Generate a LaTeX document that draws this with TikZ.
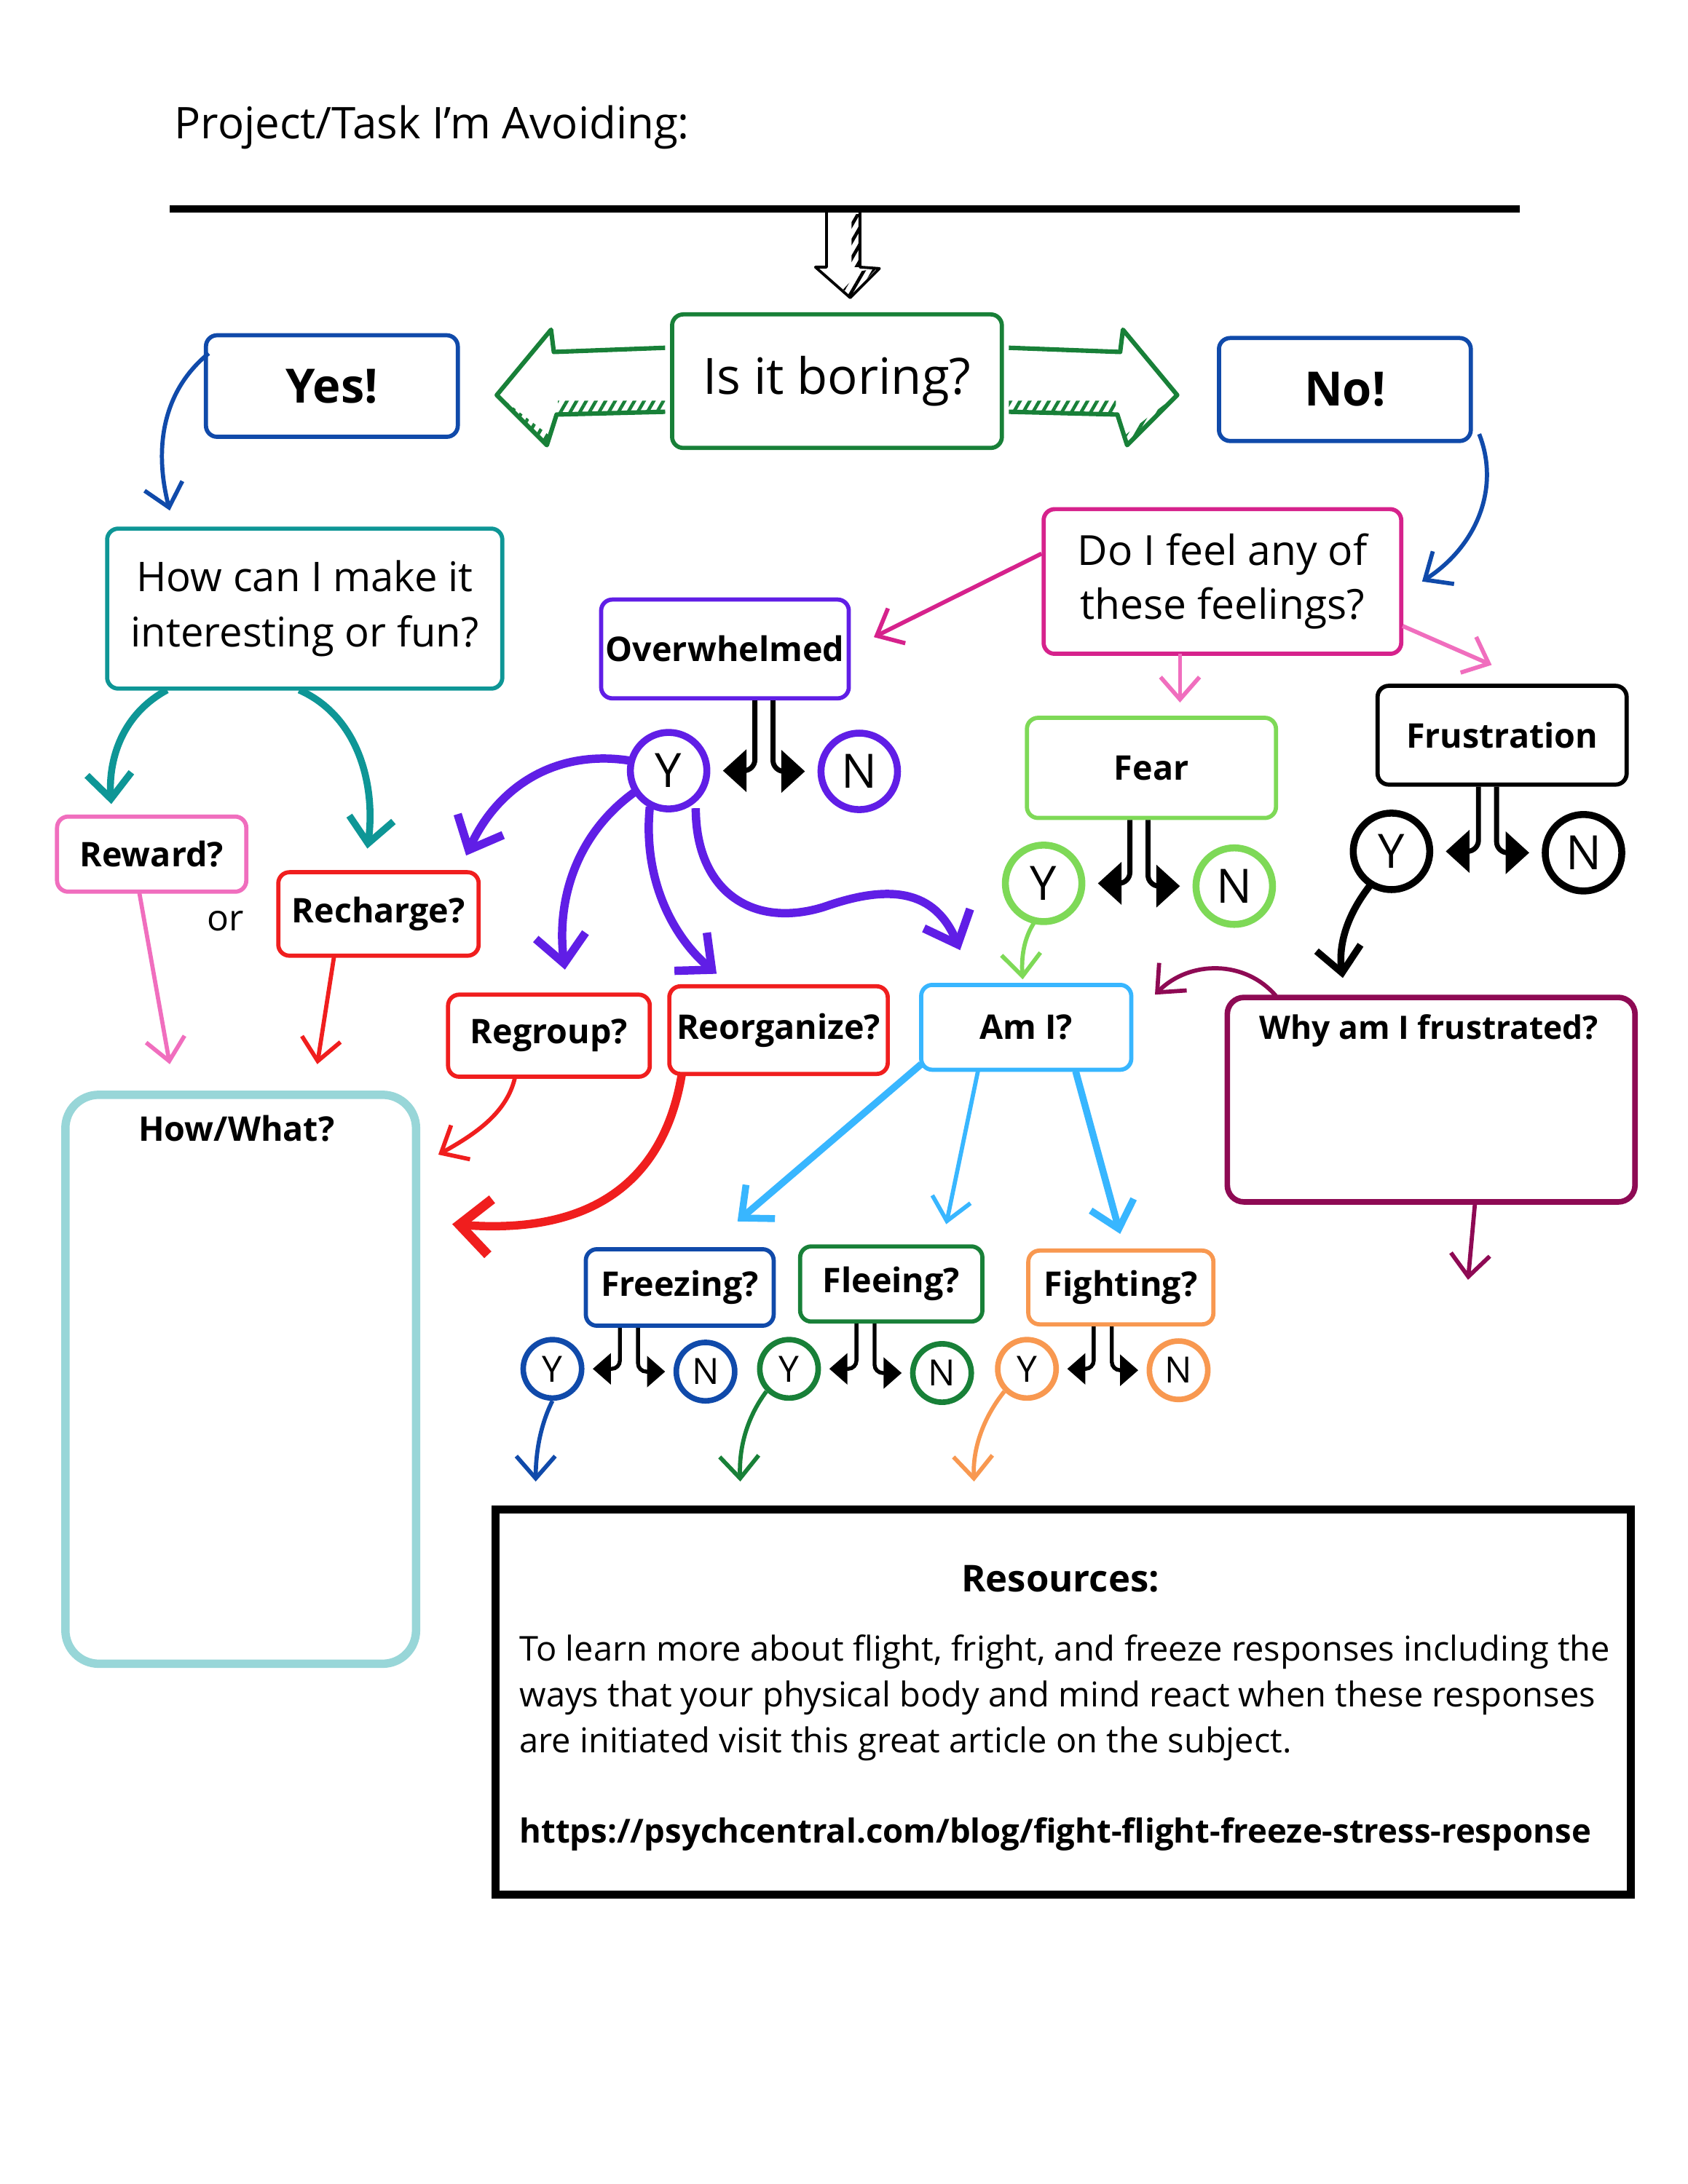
\documentclass[tikz,border=0pt]{standalone}
\usepackage{fontspec}
\setmainfont{Open Sans}
\usetikzlibrary{arrows.meta,calc,patterns.meta}
\definecolor{grn}{RGB}{24,128,56}
\definecolor{blu}{RGB}{16,74,170}
\definecolor{tea}{RGB}{14,150,150}
\definecolor{pnk}{RGB}{240,110,190}
\definecolor{mag}{RGB}{214,34,140}
\definecolor{rd}{RGB}{240,30,30}
\definecolor{ltea}{RGB}{152,214,216}
\definecolor{pur}{RGB}{96,30,230}
\definecolor{lgr}{RGB}{126,217,87}
\definecolor{lblu}{RGB}{56,182,255}
\definecolor{mar}{RGB}{142,10,84}
\definecolor{org}{RGB}{248,152,80}
\tikzset{
  box/.style={draw=#1, line width=1.5pt, rounded corners=4pt, fill=white, inner sep=0pt, align=center, font=\bfseries\fontsize{12.2}{14}\selectfont},
  circ/.style={circle, draw=#1, line width=2.5pt, minimum size=27.5pt, inner sep=0pt, font=\fontsize{17}{17}\selectfont},
  scirc/.style={circle, draw=#1, line width=2pt, minimum size=21pt, inner sep=0pt, font=\fontsize{13}{13}\selectfont},
  arr/.style={draw=#1, line width=1.5pt, -{Straight Barb[length=8pt,width=14pt,line width=1.5pt]}},
  tarr/.style={draw=#1, line width=2.5pt, -{Straight Barb[length=9pt,width=16pt,line width=2.5pt]}},
  splt/.style={line width=1.8pt, rounded corners=4pt, -{Triangle[length=8.5pt,width=15pt]}, shorten >=4.5pt},
  ssplt/.style={line width=1.4pt, rounded corners=3pt, -{Triangle[length=6.5pt,width=11pt]}, shorten >=3pt},
  hatch/.style={pattern={Lines[angle=60,distance=3pt,line width=1.2pt]}, pattern color=#1},
}
\newcommand\splitYN[4]{%
  \coordinate (#2#3m) at ($(#2)!0.5!(#3)$);
  \draw[#4] ([xshift=-3.25pt]#2#3m |- #1.south) |- (#2.east);
  \draw[#4] ([xshift=3.25pt]#2#3m |- #1.south) |- (#3.west);
}
\begin{document}
\begin{tikzpicture}[x=0.5pt,y=-0.5pt]
\useasboundingbox[fill=white] (0,0) rectangle (1213,1570);

% title and line
\node[anchor=base west, inner sep=0pt, font=\fontsize{15.7}{18}\selectfont] (title) at (125,99.5) {Project/Task I'm Avoiding:};
\coordinate (lineL) at (122,150);
\coordinate (lineR) at (1092,150);
\draw[line width=2.6pt] (lineL) -- (lineR);

% top block arrow
\fill[hatch=black] (612,154) -- (618,154) -- (618,192) -- (612,192) -- cycle;
\fill[hatch=black] (618,195) -- (630,193) -- (611,213) -- (606,208) -- cycle;
\draw[line width=1pt, line join=round] (594,152) -- (594,192) -- (586,192) -- (611,214) -- (632,193) -- (618,192) -- (618,152);

% boring box and green arrows
\node[box=grn, minimum width=118.5pt, minimum height=48pt, font=\fontsize{18}{21}\selectfont] (boring) at (601.5,274) {Is it boring?};
\foreach \s/\o in {1/0, -1/1203} {
  \begin{scope}[xshift=\o*0.5pt, xscale=\s]
    \fill[hatch=grn] (401,288) -- (478,288) -- (478,297) -- (401,298) -- cycle;
    \fill[hatch=grn] (357,284) -- (364,289) -- (396,314) -- (393,320) -- cycle;
    \draw[grn, line width=1.6pt, line join=round] (478,250) -- (398,253) -- (396,237) -- (357,284) -- (393,320) -- (400,298) -- (478,296);
  \end{scope}
}

\node[box=blu, minimum width=90.5pt, minimum height=36.5pt, font=\bfseries\fontsize{17}{20}\selectfont] (yes) at (238.5,277.5) {Yes!};
\node[box=blu, minimum width=90.5pt, minimum height=37pt, font=\bfseries\fontsize{17}{20}\selectfont] (no) at (966.5,280) {No!};

\node[box=tea, minimum width=142pt, minimum height=57.5pt, font=\fontsize{14.7}{20}\selectfont] (how) at (219,437.5) {How can I make it\\interesting or fun?};
\node[box=mag, minimum width=128.5pt, minimum height=52pt, font=\fontsize{14.9}{19.5}\selectfont] (feel) at (878.5,418) {Do I feel any of\\these feelings?};

\node[box=pnk, minimum width=68pt, minimum height=27pt] (reward) at (109,614) {Reward?};
\node[box=rd, minimum width=72pt, minimum height=30pt] (recharge) at (272,657) {Recharge?};
\node[font=\fontsize{13}{14}\selectfont] (or) at (162,662) {or};

\node[draw=ltea, line width=3pt, rounded corners=12pt, minimum width=126pt, minimum height=204.5pt, inner sep=0pt] (howwhat) at (173,991.5) {};
\node[font=\bfseries\fontsize{12.2}{14}\selectfont] (howwhatt) at (170,811) {How/What?};

\node[box=pur, minimum width=89pt, minimum height=35.5pt] (over) at (521,466.5) {Overwhelmed};
\node[box=lgr, minimum width=89.5pt, minimum height=36pt] (fear) at (827.5,552) {Fear};
\node[box=black, minimum width=89.5pt, minimum height=35.5pt] (frus) at (1079.5,528.5) {Frustration};

\node[box=rd, minimum width=72.5pt, minimum height=29.5pt] (regroup) at (394.5,744.5) {Regroup?};
\node[box=rd, minimum width=78.5pt, minimum height=31.5pt] (reorg) at (559.5,740.5) {Reorganize?};
\node[box=lblu, minimum width=75.5pt, minimum height=30.5pt] (ami) at (737.5,738.5) {Am I?};
\node[draw=mar, line width=2pt, rounded corners=6pt, minimum width=146.5pt, minimum height=73.5pt, inner sep=0pt] (why) at (1028.5,790.5) {};
\node[font=\bfseries\fontsize{11.6}{14}\selectfont] (whyt) at (1027,741) {Why am I frustrated?};

\node[box=blu, minimum width=67.5pt, minimum height=27.5pt] (freez) at (488.5,925.5) {Freezing?};
\node[box=grn, minimum width=65.5pt, minimum height=27pt] (flee) at (640.5,923) {Fleeing?};
\node[box=org, minimum width=66.5pt, minimum height=26.5pt] (fight) at (805.5,925.5) {Fighting?};

% Y/N circles
\node[circ=pur] (oy) at (480.5,554) {Y};
\node[circ=pur] (on) at (617.5,554.5) {N};
\node[circ=lgr] (fy) at (750,635) {Y};
\node[circ=lgr] (fn) at (887,637) {N};
\node[circ=black] (ry) at (1000,612) {Y};
\node[circ=black] (rn) at (1138,613) {N};
\node[scirc=blu] (zy) at (397,984) {Y};
\node[scirc=blu] (zn) at (507,986) {N};
\node[scirc=grn] (ly) at (567,984) {Y};
\node[scirc=grn] (ln) at (677,987) {N};
\node[scirc=org] (gy) at (738,984) {Y};
\node[scirc=org] (gn) at (847,985) {N};

\splitYN{over}{oy}{on}{splt}
\splitYN{fear}{fy}{fn}{splt}
\splitYN{frus}{ry}{rn}{splt}
\splitYN{freez}{zy}{zn}{ssplt}
\splitYN{flee}{ly}{ln}{ssplt}
\splitYN{fight}{gy}{gn}{ssplt}

% resources
\node[draw=black, line width=3pt, minimum width=408pt, minimum height=138.5pt, inner sep=0pt] (res) at (764,1223.5) {};
\node[font=\bfseries\fontsize{13.3}{15}\selectfont] (rest) at (762,1135) {Resources:};
\node[anchor=base west, inner sep=0pt, font=\fontsize{12.3}{14}\selectfont] (r1) at (373,1194) {To learn more about flight, fright, and freeze responses including the};
\node[anchor=base west, inner sep=0pt, font=\fontsize{12.3}{14}\selectfont] (r2) at (373,1227) {ways that your physical body and mind react when these responses};
\node[anchor=base west, inner sep=0pt, font=\fontsize{12.3}{14}\selectfont] (r3) at (373,1260) {are initiated visit this great article on the subject.};
\node[anchor=base west, inner sep=0pt, font=\bfseries\fontsize{11.9}{14}\selectfont] (url) at (373,1325) {https://psychcentral.com/blog/fight-flight-freeze-stress-response};

% free ends
\coordinate (e1) at (122,367);
\coordinate (e2) at (1022,418);
\coordinate (e3) at (80,578);
\coordinate (e4) at (264,610);
\coordinate (e5) at (122,765);
\coordinate (e6) at (228,765);
\coordinate (e7) at (628,458);
\coordinate (e8) at (848,505);
\coordinate (e9) at (1072,478);
\coordinate (p1) at (335,615);
\coordinate (p2) at (406,697);
\coordinate (p3) at (515,700);
\coordinate (p4) at (690,683);
\coordinate (e10) at (735,704);
\coordinate (e11) at (965,703);
\coordinate (e12) at (830,715);
\coordinate (e13) at (1055,920);
\coordinate (e14) at (315,830);
\coordinate (e15) at (325,880);
\coordinate (b1) at (530,878);
\coordinate (b2) at (680,880);
\coordinate (b3) at (805,887);
\coordinate (y1) at (385,1065);
\coordinate (y2) at (532,1065);
\coordinate (y3) at (700,1065);

% connectors
\draw[arr=blu] (150,254) .. controls (118,280) and (110,320) .. (e1);
\draw[arr=blu] (1063,312) .. controls (1078,350) and (1062,392) .. (e2);
\draw[tarr=tea] (120,496) .. controls (85,515) and (78,550) .. (e3);
\draw[tarr=tea] (215,496) .. controls (258,515) and (270,565) .. (e4);
\draw[arr=pnk] (100,641) -- (e5);
\draw[arr=rd] (240,688) -- (e6);
\draw[arr=mag] (feel.west) ++(0,-20) -- (e7);
\draw[arr=pnk] (848,470) -- (e8);
\draw[arr=pnk] (1008,450) -- (e9);

\begin{scope}[line width=3pt, pur, -{Straight Barb[length=10pt,width=18pt,line width=3pt]}]
\draw (454,547) .. controls (400,538) and (358,565) .. (p1);
\draw (458,568) .. controls (412,600) and (400,650) .. (p2);
\draw (467,580) .. controls (462,630) and (482,672) .. (p3);
\draw (500,581) .. controls (500,640) and (540,668) .. (592,652) .. controls (640,635) and (672,640) .. (p4);
\end{scope}

\draw[arr=lgr] (744,662) .. controls (735,675) and (734,690) .. (e10);
\draw[tarr=black] (985,636) .. controls (966,660) and (962,682) .. (e11);
\draw[arr=mar] (917,716) .. controls (895,690) and (855,690) .. (e12);
\draw[arr=mar] (1060,865) -- (e13);
\draw[arr=rd] (370,775) .. controls (364,800) and (342,815) .. (e14);
\draw[rd, line width=3pt, -{Straight Barb[length=11pt,width=20pt,line width=3.5pt]}] (490,772) .. controls (478,845) and (430,888) .. (e15);

\draw[tarr=lblu] (662,765) -- (b1);
\draw[arr=lblu] (703,769) -- (b2);
\draw[tarr=lblu] (773,770) -- (b3);

\draw[arr=blu] (zy.south) .. controls (388,1025) and (385,1045) .. (y1);
\draw[arr=grn] (ly.south west) .. controls (536,1020) and (531,1042) .. (y2);
\draw[arr=org] (gy.south west) .. controls (706,1020) and (699,1042) .. (y3);
\end{tikzpicture}
\end{document}
